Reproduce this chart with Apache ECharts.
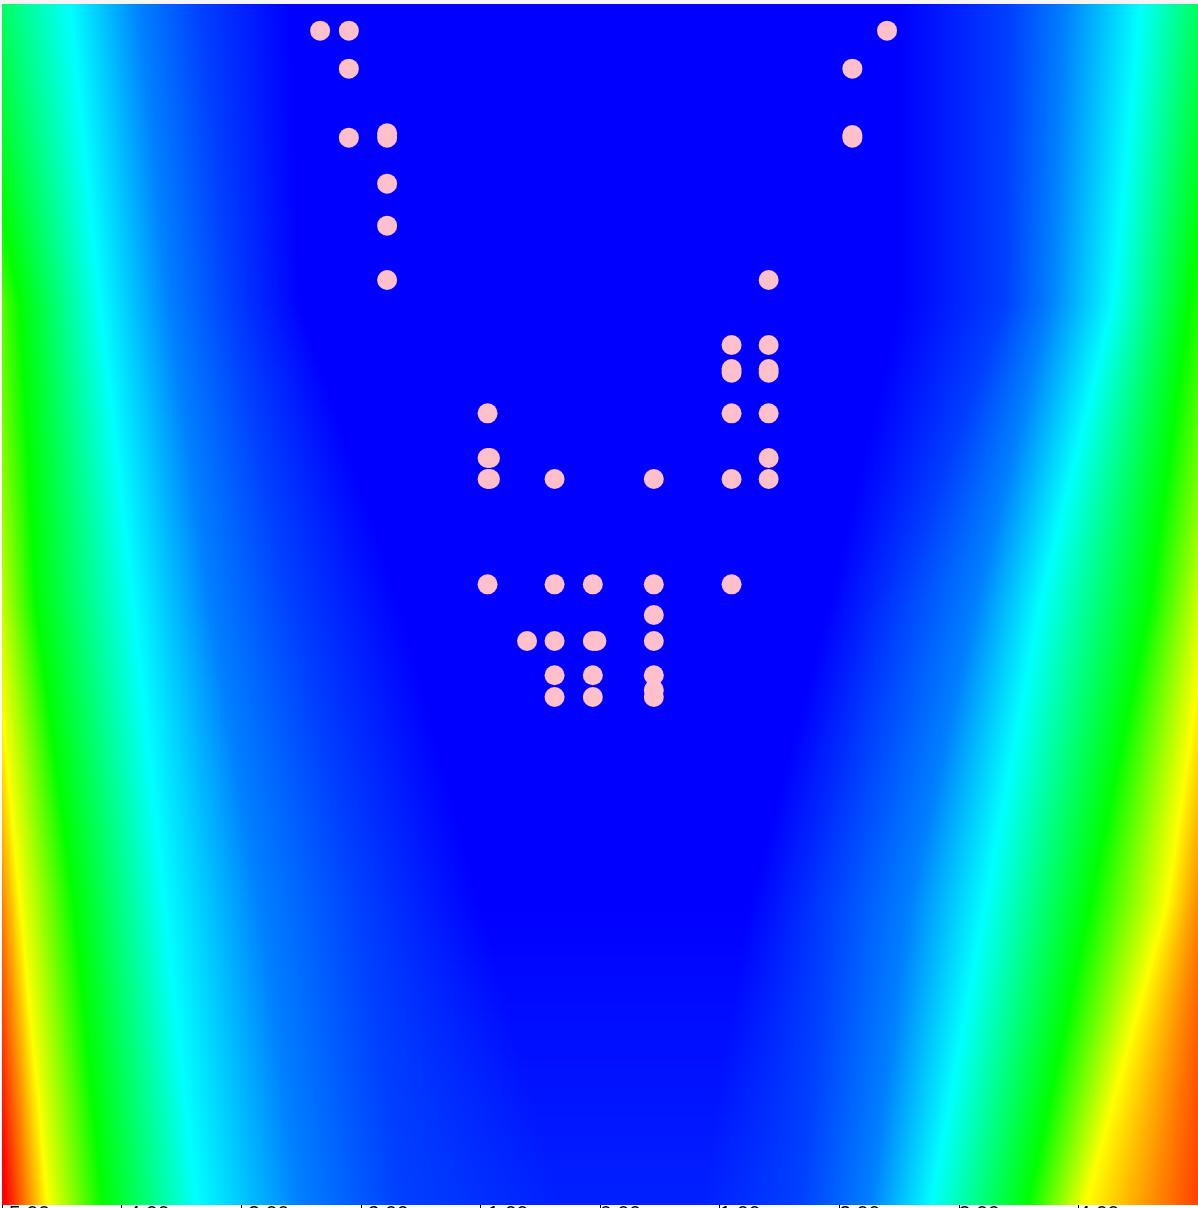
<!DOCTYPE html>
<html>
<head>
<meta charset="utf-8">
<title>Field with points</title>
<script src="https://cdn.jsdelivr.net/npm/echarts@6/dist/echarts.min.js"></script>
<style>
html, body { margin: 0; padding: 0; background: #fff; }
#main { width: 1198px; height: 1208px; }
</style>
</head>
<body>
<div id="main"></div>
<script>
// pink points
const pointsX = [-2.34, -2.10, 2.40, -2.10, 2.11, -2.10, -1.78, -1.78, 2.11, 2.11,
  -1.78, -1.78, -1.78, 1.41, 1.10, 1.41, 1.10, 1.10, 1.41, 1.41,
  -0.94, 1.10, 1.41, -0.94, -0.92, 1.41, -0.94, -0.92, -0.38, 0.45,
  1.10, 1.41, -0.94, -0.38, -0.06, 0.45, 1.10, 0.45, -0.61, -0.38,
  -0.06, -0.03, 0.45, -0.38, -0.06, 0.45, 0.45, -0.38, -0.06, 0.45]
const pointsY = [97.78, 97.78, 97.78, 94.61, 94.61, 88.86, 89.22, 88.86, 89.08, 88.86,
  85.03, 81.53, 77.00, 77.00, 71.58, 71.58, 69.58, 69.28, 69.58, 69.28,
  65.89, 65.89, 65.89, 62.17, 62.17, 62.17, 60.42, 60.42, 60.42, 60.42,
  60.42, 60.42, 51.64, 51.64, 51.64, 51.64, 51.64, 49.08, 46.92, 46.92,
  46.92, 46.92, 46.92, 44.06, 44.06, 44.06, 42.83, 42.25, 42.25, 42.25]

// background field: rows read at these y values
const fieldY = [100, 75, 50, 25, 0]
// field level at each column of fieldX ('min' = lowest value of that row)
const fieldLevels = [4, 3, 2, 1, 0.5, 0.25, 'min', 'min', 0.25, 0.5, 1, 2, 3, 4]
// x where the field crosses each level, per row
const fieldX = [
  [-6.69, -5.94, -5.35, -4.43, -3.85, -3.34, -2.59, 2.51, 3.43, 3.89, 4.52, 5.27, 5.90, 6.60],
  [-5.85, -5.30, -4.85, -4.18, -3.60, -3.09, -2.51, 2.51, 3.39, 3.76, 4.29, 4.93, 5.56, 6.19],
  [-5.45, -5.08, -4.72, -3.90, -3.26, -2.59, -1.67, 1.92, 2.51, 3.14, 3.68, 4.60, 5.10, 5.65],
  [-5.15, -4.85, -4.40, -3.64, -2.84, -2.01, -1.00, 1.25, 1.92, 2.59, 3.22, 4.10, 4.74, 5.30],
  [-4.97, -4.62, -4.16, -3.37, -2.51, -1.67, -0.33, 0.84, 1.67, 2.26, 2.77, 3.58, 4.06, 5.32]
]
const fieldMin = [0, 0, 0, 0, 0.125]

const ramp = [[0, 0, 255], [0, 255, 255], [0, 255, 0], [255, 255, 0], [255, 0, 0]]

function rampColor(t) {
  t = Math.max(0, Math.min(4, t))
  const k = Math.min(3, Math.floor(t))
  const f = t - k
  const a = ramp[k], b = ramp[k + 1]
  const c = a.map((v, j) => Math.round(v + (b[j] - v) * f))
  return 'rgb(' + c.join(',') + ')'
}

// draws the band between two field rows as thin horizontal gradient strips
function renderField(params, api) {
  const i = params.dataIndex
  const cs = params.coordSys
  const yA = api.coord([0, fieldY[i]])[1]
  const yB = api.coord([0, fieldY[i + 1]])[1]
  const steps = Math.max(1, Math.round((yB - yA) / 3))
  const children = []
  for (let s = 0; s < steps; s++) {
    const f = (s + 0.5) / steps
    const px = fieldX[i].map((v, k) => api.coord([v + (fieldX[i + 1][k] - v) * f, 0])[0])
    const tMin = fieldMin[i] + (fieldMin[i + 1] - fieldMin[i]) * f
    const p0 = px[0], p1 = px[px.length - 1]
    const stops = px.map((p, k) => ({
      offset: (p - p0) / (p1 - p0),
      color: rampColor(fieldLevels[k] === 'min' ? tMin : fieldLevels[k])
    }))
    const top = Math.round(yA + (yB - yA) * s / steps)
    const bottom = Math.round(yA + (yB - yA) * (s + 1) / steps)
    children.push({
      type: 'rect',
      shape: { x: cs.x, y: top, width: cs.width, height: bottom - top + 1 },
      style: { fill: new echarts.graphic.LinearGradient(p0, 0, p1, 0, stops, true) }
    })
  }
  return { type: 'group', children: children }
}

const myChart = echarts.init(document.getElementById('main'))
myChart.setOption({
  animation: false,
  grid: { left: 2, right: 0, top: 4, bottom: 4, outerBoundsMode: 'none' },
  graphic: [{
    type: 'rect',
    shape: { x: 0, y: 0, width: 1198, height: 4 },
    style: { fill: '#f4f4f4' },
    silent: true
  }],
  xAxis: {
    type: 'value',
    min: -5,
    max: 5,
    interval: 1,
    axisLine: { show: false },
    axisTick: { show: true, length: 5, lineStyle: { color: '#000' } },
    splitLine: { show: false },
    axisLabel: {
      color: '#000',
      fontSize: 21,
      align: 'left',
      margin: 0,
      formatter: (v) => v.toFixed(2)
    }
  },
  yAxis: {
    type: 'value',
    min: 0,
    max: 100,
    show: false
  },
  series: [
    {
      name: 'field',
      type: 'custom',
      renderItem: renderField,
      data: fieldY.slice(0, -1).map((y, i) => [0, y, i]),
      silent: true,
      z: 1
    },
    {
      name: 'points',
      type: 'scatter',
      symbolSize: 20,
      itemStyle: { color: '#ffc0cb', opacity: 1 },
      data: pointsX.map((x, i) => [x, pointsY[i]]),
      z: 2
    }
  ]
})
</script>
</body>
</html>
